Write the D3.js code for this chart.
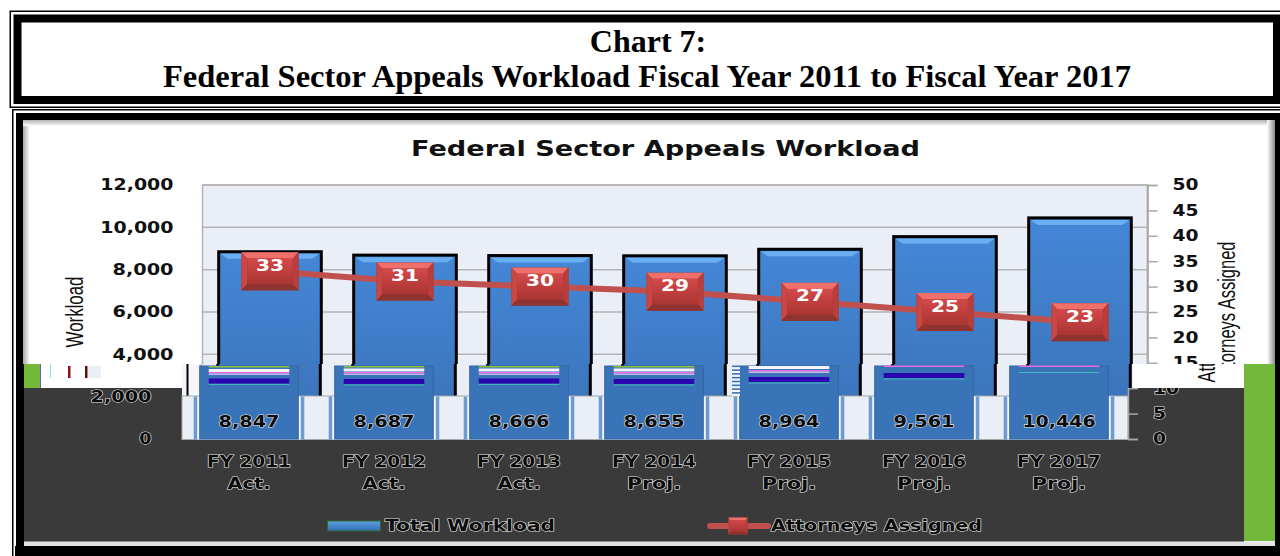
<!DOCTYPE html>
<html>
<head>
<meta charset="utf-8">
<script src="https://cdnjs.cloudflare.com/ajax/libs/d3/7.8.5/d3.min.js"></script>
<style>
  html, body { margin: 0; padding: 0; background: #fff; overflow: hidden; }
  svg { display: block; }
  text { font-family: "DejaVu Sans", sans-serif; }
</style>
</head>
<body>
<svg id="chart" width="1280" height="556"></svg>
<script>
var categories = ["FY 2011", "FY 2012", "FY 2013", "FY 2014", "FY 2015", "FY 2016", "FY 2017"];
var phases = ["Act.", "Act.", "Act.", "Proj.", "Proj.", "Proj.", "Proj."];
var workload = [8847, 8687, 8666, 8655, 8964, 9561, 10446];
var attorneys = [33, 31, 30, 29, 27, 25, 23];
var workloadTicks = [0, 2000, 4000, 6000, 8000, 10000, 12000];
var attorneyTicks = [0, 5, 10, 15, 20, 25, 30, 35, 40, 45, 50];

var svg = d3.select("#chart");
var defs = svg.append("defs");

function gradient(id, stops, horizontal) {
  var g = defs.append("linearGradient").attr("id", id)
    .attr("x1", 0).attr("y1", 0)
    .attr("x2", horizontal ? 1 : 0).attr("y2", horizontal ? 0 : 1);
  stops.forEach(function (s) {
    g.append("stop").attr("offset", s[0]).attr("stop-color", s[1]);
  });
}
gradient("barFill", [[0, "#4487d6"], [0.5, "#3f7cc6"], [1, "#3a70b4"]]);
gradient("swatchFill", [[0, "#62a0e4"], [1, "#2f6cb4"]]);
gradient("faceFill", [[0, "#d4494a"], [1, "#a93532"]]);
gradient("shadeLeft", [[0, "#a8a8a8"], [1, "#ffffff"]], true);
gradient("shadeTop", [[0, "#b0b0b0"], [1, "#ffffff"]]);
gradient("shadeRight", [[0, "#ffffff"], [1, "#8c8c8c"]], true);

function clip(id, rects) {
  var c = defs.append("clipPath").attr("id", id);
  rects.forEach(function (r) {
    c.append("rect").attr("x", r[0]).attr("y", r[1]).attr("width", r[2]).attr("height", r[3]);
  });
}
clip("clipTop", [[0, 0, 1280, 364]]);
clip("clipMid", [[182, 364, 946, 32], [1128, 364, 5, 24]]);
clip("clipAt", [[1128, 364, 116, 24]]);
clip("clipLowAxis", [[1120, 388, 124, 60]]);

var y = d3.scaleLinear().domain([0, 12000]).range([439, 185]);
var y2 = d3.scaleLinear().domain([0, 50]).range([439, 185]);
var x = d3.scaleBand().domain(categories).range([202.5, 1147.5]).paddingInner(0.24).paddingOuter(0.12);
var fmt = d3.format(",");

// page frames
function frame(x0, y0, w, h, thin, gap, thick) {
  svg.append("rect").attr("x", x0).attr("y", y0).attr("width", w).attr("height", h).attr("fill", "#000");
  svg.append("rect").attr("x", x0 + thin).attr("y", y0 + thin)
    .attr("width", w - 2 * thin).attr("height", h - 2 * thin).attr("fill", "#fff");
  svg.append("rect").attr("x", x0 + thin + gap).attr("y", y0 + thin + gap)
    .attr("width", w - 2 * (thin + gap)).attr("height", h - 2 * (thin + gap)).attr("fill", "#000");
  svg.append("rect").attr("x", x0 + thin + gap + thick).attr("y", y0 + thin + gap + thick)
    .attr("width", w - 2 * (thin + gap + thick)).attr("height", h - 2 * (thin + gap + thick)).attr("fill", "#fff");
}
frame(9.5, 10.5, 1275.5, 97.5, 1.5, 2.5, 8);
frame(12, 109, 1275, 460, 1.5, 2.5, 8);
svg.append("rect").attr("x", 15).attr("y", 546).attr("width", 1265).attr("height", 10).attr("fill", "#000");

svg.append("text").attr("x", 648).attr("y", 52).attr("text-anchor", "middle")
  .style("font-family", "'Liberation Serif', serif").style("font-weight", "bold").style("font-size", "32px")
  .text("Chart 7:");
svg.append("text").attr("x", 647).attr("y", 87).attr("text-anchor", "middle")
  .style("font-family", "'Liberation Serif', serif").style("font-weight", "bold").style("font-size", "32px")
  .attr("textLength", 968).attr("lengthAdjust", "spacingAndGlyphs")
  .text("Federal Sector Appeals Workload Fiscal Year 2011 to Fiscal Year 2017");

// panel edge shading
svg.append("rect").attr("x", 23).attr("y", 120).attr("width", 7).attr("height", 244).attr("fill", "url(#shadeLeft)");
svg.append("rect").attr("x", 23).attr("y", 120).attr("width", 1252).attr("height", 6).attr("fill", "url(#shadeTop)");
svg.append("rect").attr("x", 1267).attr("y", 120).attr("width", 8).attr("height", 244).attr("fill", "url(#shadeRight)");

function drawPlot(g) {
  g.append("rect").attr("x", 202.5).attr("y", 185).attr("width", 945).attr("height", 254)
    .attr("fill", "#e9eef7").attr("stroke", "#b4b4b4").attr("stroke-width", 1.5);
  g.selectAll(".grid").data(workloadTicks).enter().append("line").attr("class", "grid")
    .attr("x1", 202.5).attr("x2", 1147.5)
    .attr("y1", function (d) { return y(d); }).attr("y2", function (d) { return y(d); })
    .attr("stroke", "#b4b4b4").attr("stroke-width", 1.5);
  g.selectAll(".bar").data(workload).enter().append("rect").attr("class", "bar")
    .attr("x", function (d, i) { return x(categories[i]); })
    .attr("y", function (d) { return y(d); })
    .attr("width", x.bandwidth())
    .attr("height", function (d) { return 439 - y(d); })
    .attr("fill", "url(#barFill)").attr("stroke", "#000").attr("stroke-width", 3);
}

// top slice
var upper = svg.append("g").attr("clip-path", "url(#clipTop)");
drawPlot(upper);
upper.selectAll(".bevel").data(workload).enter().append("polygon").attr("class", "bevel")
  .attr("points", function (d, i) {
    var l = x(categories[i]) + 2, r = l + x.bandwidth() - 4, t = y(d) + 2;
    return [[l, t], [r, t], [r - 7, t + 5], [l + 7, t + 5]].join(" ");
  })
  .attr("fill", "#69aef0");

function wide(sel, perChar) {
  sel.attr("textLength", function () { return this.textContent.length * perChar; })
    .attr("lengthAdjust", "spacingAndGlyphs");
}
function styleAxis(ax, textFill, perChar) {
  ax.select(".domain").attr("stroke", "#a8a8a8").attr("stroke-width", 1.5);
  ax.selectAll("line").attr("stroke", "#a8a8a8").attr("stroke-width", 1.5);
  ax.selectAll("text").attr("fill", textFill).style("font-size", "15px").style("font-weight", "bold");
  wide(ax.selectAll("text"), perChar);
}

var leftAxis = upper.append("g").attr("transform", "translate(202.5,0)")
  .call(d3.axisLeft(y).tickValues(workloadTicks.filter(function (d) { return d >= 4000; }))
    .tickFormat(fmt).tickSize(0).tickPadding(29));
styleAxis(leftAxis, "#111", 12.2);
leftAxis.select(".domain").remove();
var rightAxis = upper.append("g").attr("transform", "translate(1147.5,0)")
  .call(d3.axisRight(y2).tickValues(attorneyTicks.filter(function (d) { return d >= 15; }))
    .tickSize(10).tickPadding(15));
styleAxis(rightAxis, "#111", 13);
// the d3 domain stops at the lowest tick, the line itself runs on behind the slice
upper.append("line").attr("x1", 1147.5).attr("x2", 1147.5).attr("y1", 185).attr("y2", 364)
  .attr("stroke", "#a8a8a8").attr("stroke-width", 1.5);

function rotatedLabel(g, cx, cy, len, label) {
  g.append("text").attr("transform", "translate(" + cx + "," + cy + ") rotate(-90)")
    .attr("text-anchor", "middle").attr("dy", "0.35em")
    .style("font-family", "'Liberation Sans Narrow', 'Liberation Sans', sans-serif")
    .style("font-size", "23px").attr("fill", "#111")
    .attr("textLength", len).attr("lengthAdjust", "spacingAndGlyphs").text(label);
}
rotatedLabel(upper, 75, 312, 71, "Workload");
rotatedLabel(upper, 1227, 312, 141, "Attorneys Assigned");

svg.append("text").attr("x", 665.5).attr("y", 156).attr("text-anchor", "middle")
  .style("font-size", "22px").style("font-weight", "bold").attr("fill", "#111")
  .attr("textLength", 509).attr("lengthAdjust", "spacingAndGlyphs")
  .text("Federal Sector Appeals Workload");

// attorneys line and bevelled markers
var line = d3.line()
  .x(function (d, i) { return x(categories[i]) + x.bandwidth() / 2; })
  .y(function (d) { return y2(d); });
upper.append("path").datum(attorneys).attr("d", line)
  .attr("fill", "none").attr("stroke", "#c0504d").attr("stroke-width", 6);

function drawMarker(g, cx, cy, w, h) {
  var l = cx - w / 2, r = cx + w / 2, t = cy - h / 2, b = cy + h / 2;
  var dx = w * 0.1, dy = h * 0.16;
  g.append("rect").attr("x", l).attr("y", t).attr("width", w).attr("height", h).attr("fill", "#8f3532");
  g.append("polygon").attr("points", [[l, t], [r, t], [r - dx, t + dy], [l + dx, t + dy]].join(" ")).attr("fill", "#ef6f6b");
  g.append("polygon").attr("points", [[l, t], [l + dx, t + dy], [l + dx, b - dy], [l, b]].join(" ")).attr("fill", "#c94643");
  g.append("polygon").attr("points", [[r, t], [r - dx, t + dy], [r - dx, b - dy], [r, b]].join(" ")).attr("fill", "#b93d3a");
  g.append("polygon").attr("points", [[l, b], [l + dx, b - dy], [r - dx, b - dy], [r, b]].join(" ")).attr("fill", "#8e3330");
  g.append("rect").attr("x", l + dx).attr("y", t + dy).attr("width", w - 2 * dx).attr("height", h - 2 * dy).attr("fill", "url(#faceFill)");
}
attorneys.forEach(function (d, i) {
  var cx = x(categories[i]) + x.bandwidth() / 2;
  drawMarker(upper, cx, y2(d), 57, 38);
  upper.append("text").attr("x", cx).attr("y", y2(d) - 6).attr("dy", "0.35em").attr("text-anchor", "middle")
    .attr("fill", "#fff").style("font-size", "16px").style("font-weight", "bold")
    .attr("textLength", 28).attr("lengthAdjust", "spacingAndGlyphs").text(d);
});

// dark panel that covers the lower part of the figure
svg.append("rect").attr("x", 24).attr("y", 364).attr("width", 16).attr("height", 24).attr("fill", "#72b83a");
svg.append("rect").attr("x", 40).attr("y", 364).attr("width", 142).attr("height", 24).attr("fill", "#fff");
svg.append("rect").attr("x", 40).attr("y", 364).attr("width", 1).attr("height", 24).attr("fill", "#6a5acd");
svg.append("rect").attr("x", 50).attr("y", 364).attr("width", 1).attr("height", 14).attr("fill", "#7fe8ee");
svg.append("rect").attr("x", 68).attr("y", 366).attr("width", 2.5).attr("height", 12).attr("fill", "#8a1020");
svg.append("rect").attr("x", 85).attr("y", 366).attr("width", 2.5).attr("height", 12).attr("fill", "#5a1010");
svg.append("rect").attr("x", 88).attr("y", 366).attr("width", 13).attr("height", 12).attr("fill", "#e9eef7");
svg.append("rect").attr("x", 1128).attr("y", 364).attr("width", 116).attr("height", 24).attr("fill", "#fff");
svg.append("rect").attr("x", 1244).attr("y", 364).attr("width", 31).attr("height", 177).attr("fill", "#72b83a");
svg.append("rect").attr("x", 24).attr("y", 388).attr("width", 1220).attr("height", 154).attr("fill", "#3a3a3a");
svg.append("rect").attr("x", 24).attr("y", 541.5).attr("width", 1251).attr("height", 4.5).attr("fill", "#e4e4e4");

// "At" of the right axis title, shifted
var atSlice = svg.append("g").attr("clip-path", "url(#clipAt)").append("g").attr("transform", "translate(-20,0)");
rotatedLabel(atSlice, 1227, 312, 141, "Attorneys Assigned");

// middle slice: bars stay in place, a stray edge sits left of the plot
var midClip = svg.append("g").attr("clip-path", "url(#clipMid)");
midClip.append("rect").attr("x", 182).attr("y", 364).attr("width", 22).attr("height", 32).attr("fill", "#f4f6fb");
midClip.append("rect").attr("x", 186.5).attr("y", 364).attr("width", 2).attr("height", 32).attr("fill", "#000");
var mid = midClip.append("g").attr("transform", "translate(-1,0)");
drawPlot(mid);

// lower slice
var low = svg.append("g");
var lowX = d3.scaleBand().domain(categories).range([181.5, 1126.5]).paddingInner(0.27).paddingOuter(0.135);

var gaps = low.append("g");
gaps.append("rect").attr("x", 182).attr("y", 396).attr("width", 946).attr("height", 43.5)
  .attr("fill", "#e9eef7").attr("stroke", "#a8a8a8").attr("stroke-width", 1);
gaps.selectAll(".strip").data(categories).enter().append("rect").attr("class", "strip")
  .attr("x", function (d) { return lowX(d) - 6; })
  .attr("y", 396.5).attr("width", lowX.bandwidth() + 12).attr("height", 43)
  .attr("fill", "#6d9bd0");
gaps.selectAll(".stripIn").data(categories).enter().append("rect").attr("class", "stripIn")
  .attr("x", function (d) { return lowX(d) - 2.5; })
  .attr("y", 396.5).attr("width", lowX.bandwidth() + 5).attr("height", 43)
  .attr("fill", "#f2f5fa");

low.selectAll(".lowBar").data(workload).enter().append("rect").attr("class", "lowBar")
  .attr("x", function (d, i) { return lowX(categories[i]); })
  .attr("y", 366)
  .attr("width", lowX.bandwidth())
  .attr("height", function (d) { return y(0) - 366; })
  .attr("fill", "#3a74b8").attr("stroke", "#34659f").attr("stroke-width", 1);

// scan glitches at the top of the lower bars
var glitch = [
  { green: 366, white: 369, pink: 372, dark: 378.5, teal: 384 },
  { green: 366, white: 368.5, pink: 372, dark: 379, teal: 384.5 },
  { green: 366, white: 368.5, pink: 372, dark: 378.5, teal: 384 },
  { green: 366, white: 368.5, pink: 372, dark: 379, teal: 384.5 },
  { white: 366, pink: 370, dark: 377, teal: 382.5 },
  { pink: 365.5, dark: 373, teal: 378.5 },
  { pink: 365.5, teal: 372 }
];
glitch.forEach(function (s, i) {
  var bx = lowX(categories[i]), bw = lowX.bandwidth();
  function row(y0, h, c) {
    low.append("rect").attr("x", bx + 9).attr("y", y0).attr("width", bw - 18).attr("height", h).attr("fill", c);
  }
  if (s.green) row(s.green, 1.5, "#8fc23c");
  if (s.white) row(s.white, 3, "#f4f4ff");
  row(s.pink, 1.5, "#e86ce0");
  if (s.white) row(s.pink + 1.5, 1.5, "#c6b8f0");
  if (s.dark) row(s.dark, 5, "#2a06b0");
  row(s.teal, 1, "#3fb8b8");
});

// little striped block between bars 4 and 5
low.append("rect").attr("x", 732).attr("y", 365).attr("width", 8).attr("height", 31).attr("fill", "#f4f6fb");
low.selectAll(".scan").data(d3.range(8)).enter().append("rect").attr("class", "scan")
  .attr("x", 732).attr("y", function (d) { return 365.5 + d * 3.8; })
  .attr("width", 8).attr("height", 1.6).attr("fill", "#3a74b8");

function emboss(sel) {
  sel.attr("fill", "#0c0c0c").attr("stroke", "#e6e6e6").attr("stroke-width", 1.1)
    .style("paint-order", "stroke").style("font-size", "15px").style("font-weight", "bold");
}
low.selectAll(".val").data(workload).enter().append("text").attr("class", "val")
  .attr("x", function (d, i) { return lowX(categories[i]) + lowX.bandwidth() / 2; })
  .attr("y", 427).attr("text-anchor", "middle")
  .text(function (d) { return fmt(d); })
  .attr("textLength", function (d) { return fmt(d).length * 12.2; })
  .attr("lengthAdjust", "spacingAndGlyphs")
  .call(emboss);

// lower pieces of the axes
var lowLeft = low.append("g").attr("transform", "translate(181.5,0)")
  .call(d3.axisLeft(y).tickValues([0, 2000]).tickFormat(fmt).tickSize(0).tickPadding(30));
lowLeft.select(".domain").remove();
lowLeft.selectAll("text").call(emboss);
wide(lowLeft.selectAll("text"), 12.2);

var lowRight = low.append("g").attr("clip-path", "url(#clipLowAxis)").append("g").attr("transform", "translate(1128,0)")
  .call(d3.axisRight(y2).tickValues([0, 5, 10]).tickSize(10).tickPadding(15));
lowRight.select(".domain").attr("stroke", "#a8a8a8").attr("stroke-width", 1.5);
lowRight.selectAll("line").attr("stroke", "#a8a8a8").attr("stroke-width", 1.5);
lowRight.selectAll("text").call(emboss);
wide(lowRight.selectAll("text"), 13);

categories.forEach(function (c, i) {
  var cx = lowX(c) + lowX.bandwidth() / 2;
  low.append("text").attr("x", cx).attr("y", 467).attr("text-anchor", "middle").text(c)
    .attr("textLength", 84).attr("lengthAdjust", "spacingAndGlyphs").call(emboss);
  low.append("text").attr("x", cx).attr("y", 489).attr("text-anchor", "middle").text(phases[i])
    .attr("textLength", phases[i].length * 10.8).attr("lengthAdjust", "spacingAndGlyphs").call(emboss);
});

// legend
var legend = low.append("g");
legend.append("rect").attr("x", 327.5).attr("y", 521).attr("width", 53).attr("height", 10)
  .attr("fill", "url(#swatchFill)").attr("stroke", "#2c6a2c").attr("stroke-width", 1);
legend.append("text").attr("x", 385).attr("y", 531).text("Total Workload")
  .attr("textLength", 170).attr("lengthAdjust", "spacingAndGlyphs").call(emboss);
legend.append("line").attr("x1", 710).attr("x2", 768).attr("y1", 526).attr("y2", 526)
  .attr("stroke", "#c0504d").attr("stroke-width", 6).attr("stroke-linecap", "round");
drawMarker(legend, 738, 526, 19, 17);
legend.append("text").attr("x", 771).attr("y", 531).text("Attorneys Assigned")
  .attr("textLength", 211).attr("lengthAdjust", "spacingAndGlyphs").call(emboss);
</script>
</body>
</html>
